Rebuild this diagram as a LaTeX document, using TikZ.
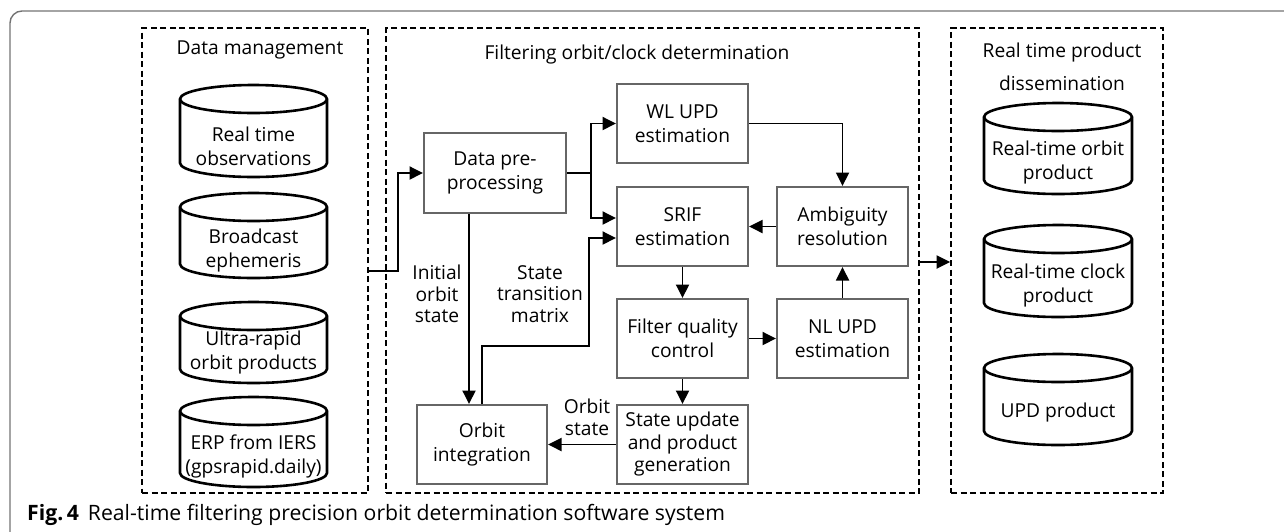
\documentclass[tikz,border=0pt]{standalone}
\usepackage{fontspec}
\setmainfont{Open Sans}
\usetikzlibrary{arrows.meta,calc}

% database drum: name, centre x, top y, bottom y, half width, text y, text
\newcommand\drum[7]{%
  \path[drumline] ({#2-#5},{#3+14}) -- ({#2-#5},{#4-14})
    arc[start angle=180,end angle=0,x radius=#5,y radius=14]
    -- ({#2+#5},{#3+14})
    arc[start angle=0,end angle=-180,x radius=#5,y radius=14] -- cycle;
  \draw[drumline] ({#2-#5},{#3+14})
    arc[start angle=180,end angle=0,x radius=#5,y radius=14];
  \node[drumtext] (#1) at (#2,#6) {#7};
}

\tikzset{
  txt/.style={font=\fontsize{19.2}{24}\selectfont, align=center, inner sep=0pt},
  blk/.style={txt, draw=black!60, line width=2pt, fill=white},
  drumline/.style={draw=black, line width=2.6pt, fill=white},
  drumtext/.style={txt},
  grp/.style={draw=black, line width=1.6pt, dash pattern=on 6pt off 3.5pt},
  arr/.style={draw=black, line width=1.9pt, -{Triangle[length=13.5pt,width=13pt]}},
  plain/.style={draw=black, line width=1.9pt},
  lbl/.style={txt},
  frame/.style={draw=black!55, line width=1.4pt, rounded corners=12pt},
}

\begin{document}
\begin{tikzpicture}[x=1pt,y=-1pt]
\useasboundingbox (0,0) rectangle (1284,531);

% figure frame
\draw[frame] (10,545) -- (10,11) -- (1300,11);

% group boxes
\node[grp, minimum width=226pt, minimum height=465pt] (dm) at (255,260.5) {};
\node[grp, minimum width=533pt, minimum height=465pt] (fc) at (652.5,260.5) {};
\node[grp, minimum width=212pt, minimum height=465pt] (rt) at (1057,260.5) {};

\node[txt] (dmt) at (260,50) {Data management};
\node[txt] (fct) at (637,55) {Filtering orbit/clock determination};
\node[txt] (rtt) at (1062,66.5) {Real time product\\[9pt]dissemination};

% data sources
\drum{obs}{253.5}{85}{177}{73.5}{146}{Real time\\observations}
\drum{brd}{253.5}{193}{278}{73.5}{250.5}{Broadcast\\ephemeris}
\drum{ultra}{253.5}{302}{383}{73.5}{353}{Ultra-rapid\\orbit products}
\drum{erp}{253.5}{397}{487}{73.5}{456}{ERP from IERS\\(gpsrapid.daily)}

% products
\drum{orb}{1058}{103}{194}{74}{163}{Real-time orbit\\product}
\drum{clk}{1058}{225}{317}{74}{286}{Real-time clock\\product}
\drum{upd}{1058}{354}{445}{74}{413}{UPD product}

% processing blocks
\node[blk, minimum width=142pt, minimum height=80pt] (pre) at (495,173) {Data pre-\\processing};
\node[blk, minimum width=131pt, minimum height=79pt] (wl) at (682.5,123.5) {WL UPD\\estimation};
\node[blk, minimum width=131pt, minimum height=79pt] (srif) at (682.5,226.5) {SRIF\\estimation};
\node[blk, minimum width=131pt, minimum height=79pt] (amb) at (842.5,226.5) {Ambiguity\\resolution};
\node[blk, minimum width=131pt, minimum height=79pt] (fqc) at (682.5,338.5) {Filter quality\\control};
\node[blk, minimum width=131pt, minimum height=79pt] (nl) at (842.5,338.5) {NL UPD\\estimation};
\node[blk, minimum width=131pt, minimum height=79pt, font=\fontsize{19.2}{22.5}\selectfont] (su) at (682.5,444.5) {State update\\and product\\generation};
\node[blk, minimum width=130pt, minimum height=79pt] (oi) at (482,444.5) {Orbit\\integration};

% connector labels
\node[lbl, font=\fontsize{19.2}{21.5}\selectfont] (l1) at (437,294) {Initial\\orbit\\state};
\node[lbl, font=\fontsize{19.2}{21.5}\selectfont] (l2) at (540,294) {State\\transition\\matrix};
\node[lbl, font=\fontsize{19.2}{22}\selectfont] (l3) at (587,417) {Orbit\\state};

% connectors
\coordinate (din) at ($(dm.east)+(0,10.5)$);
\draw[arr] (din) -- ++(29,0) |- (pre);
\draw[plain] (pre.east) -- ++(24,0) coordinate (split);
\draw[arr] (split) |- (wl);
\draw[arr] (split) |- ($(srif.west)+(0,-8.5)$);
\draw[arr] ([xshift=-26pt]pre.south) -- ([xshift=-13pt]oi.north);
\draw[arr] (oi.north) -- ++(0,-58) -- ++(107,0) |- ($(srif.west)+(0,11.5)$);
\draw[arr] (wl.east) -| (amb.north);
\draw[arr] (amb) -- (srif);
\draw[arr] (srif) -- (fqc);
\draw[arr] (fqc) -- (nl);
\draw[arr] (nl) -- (amb);
\draw[arr] (fqc) -- (su);
\draw[arr] (su) -- (oi);
\draw[arr] ($(fc.east)+(0,1.5)$) -- ($(rt.west)+(0,1.5)$);

% caption
\node[anchor=west, inner sep=0pt, font=\fontsize{21.2}{24}\selectfont] (cap) at (27,515)
  {\textbf{Fig.\,4}\hspace{9pt}Real-time filtering precision orbit determination software system};
\end{tikzpicture}
\end{document}
